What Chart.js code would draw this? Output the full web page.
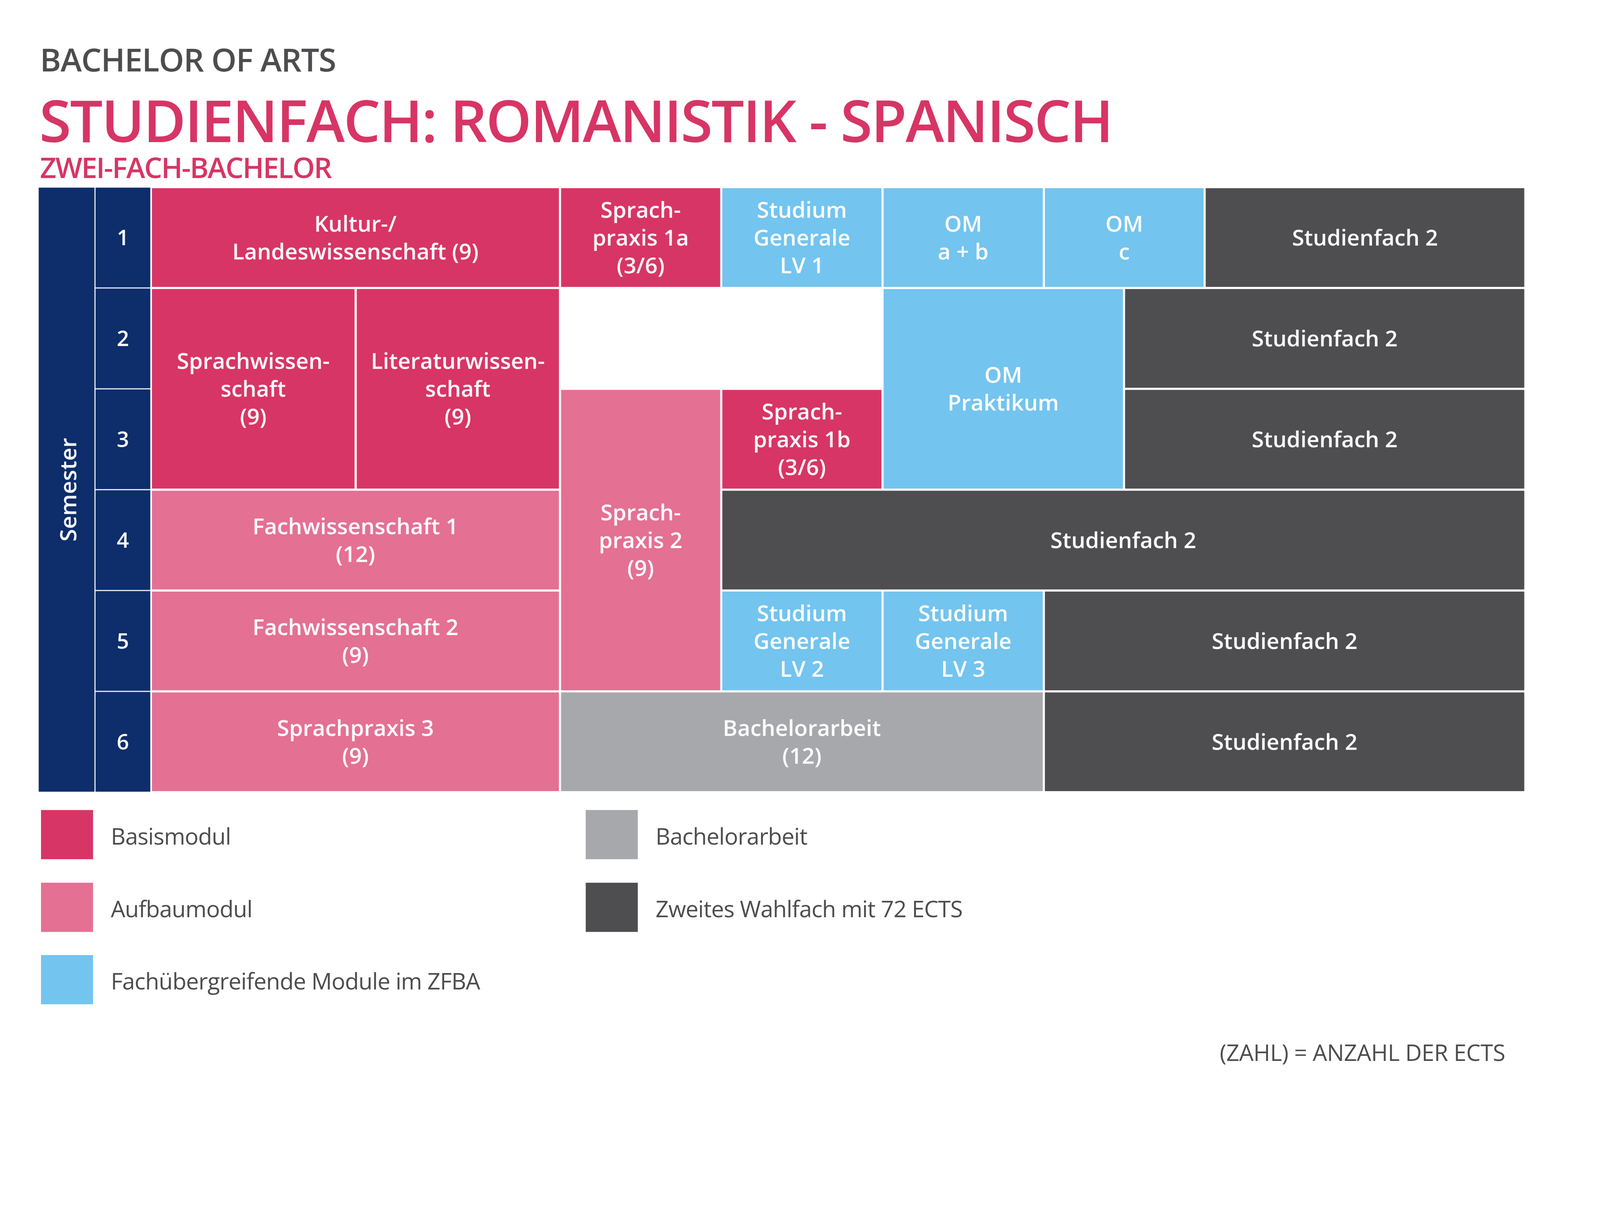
<!DOCTYPE html>
<html>
<head>
<meta charset="utf-8">
<script src="https://cdn.jsdelivr.net/npm/chart.js@4.4.1/dist/chart.umd.min.js"></script>
<style>
  html, body { margin: 0; padding: 0; background: #fff; overflow: hidden; }
  #page { width: 4488px; height: 3150px; position: absolute; left: 0; top: 0; transform-origin: 0 0; font-family: 'Open Sans', sans-serif; }
  .txt { position: absolute; white-space: nowrap; line-height: 1; }
  .swatch { position: absolute; width: 146px; height: 138px; }
  #wrap { position: absolute; left: 107px; top: 525px; width: 4178px; height: 1698px; }
</style>
</head>
<body>
<div id="page">
  <div class="txt" style="left:112px;top:120px;font-size:90px;font-weight:600;color:#4d4d4f;letter-spacing:-1.5px">BACHELOR OF ARTS</div>
  <div class="txt" style="left:110px;top:255px;font-size:163px;font-weight:600;color:#d73565;letter-spacing:-3.5px">STUDIENFACH: ROMANISTIK - SPANISCH</div>
  <div class="txt" style="left:112px;top:429px;font-size:80px;font-weight:600;color:#d73565;letter-spacing:-2.8px">ZWEI-FACH-BACHELOR</div>
  <div id="wrap"><canvas id="plan"></canvas></div>
  <div id="legend"></div>
  <div class="txt" id="note" style="right:266px;top:2921px;font-size:64px;color:#4d4d4f;letter-spacing:-0.5px">(ZAHL) = ANZAHL DER ECTS</div>
</div>

<script>
// semesters (rows)
const semesters = ['1', '2', '3', '4', '5', '6'];
const sideTitle = 'Semester';

// modules: x range in ECTS-like column units (0..30), row range as semester index
const moduleNames = [
  'Kultur-/\nLandeswissenschaft (9)',
  'Sprach-\npraxis 1a\n(3/6)',
  'Studium\nGenerale\nLV 1',
  'OM\na + b',
  'OM\nc',
  'Studienfach 2',
  'Sprachwissen-\nschaft\n(9)',
  'Literaturwissen-\nschaft\n(9)',
  'OM\nPraktikum',
  'Studienfach 2',
  'Studienfach 2',
  'Sprach-\npraxis 2\n(9)',
  'Sprach-\npraxis 1b\n(3/6)',
  'Fachwissenschaft 1\n(12)',
  'Studienfach 2',
  'Fachwissenschaft 2\n(9)',
  'Studium\nGenerale\nLV 2',
  'Studium\nGenerale\nLV 3',
  'Studienfach 2',
  'Sprachpraxis 3\n(9)',
  'Bachelorarbeit\n(12)',
  'Studienfach 2'
];
const moduleFrom = [0, 8.93, 12.45, 15.97, 19.49, 23.0, 0, 4.47, 15.97, 21.24, 21.24, 8.93, 12.45, 0, 12.45, 0, 12.45, 15.97, 19.49, 0, 8.93, 19.49];
const moduleTo   = [8.93, 12.45, 15.97, 19.49, 23.0, 30, 4.47, 8.93, 21.24, 30, 30, 12.45, 15.97, 8.93, 30, 8.93, 15.97, 19.49, 30, 8.93, 19.49, 30];
const semFrom    = [0, 0, 0, 0, 0, 0, 1, 1, 1, 1, 2, 2, 2, 3, 3, 4, 4, 4, 4, 5, 5, 5];
const semTo      = [0, 0, 0, 0, 0, 0, 2, 2, 2, 1, 2, 4, 2, 3, 3, 4, 4, 4, 4, 5, 5, 5];
const moduleKind = [0, 0, 2, 2, 2, 4, 0, 0, 2, 4, 4, 1, 0, 1, 4, 1, 2, 2, 4, 1, 3, 4];

// legend
const kindNames = ['Basismodul', 'Aufbaumodul', 'Fachübergreifende Module im ZFBA', 'Bachelorarbeit', 'Zweites Wahlfach mit 72 ECTS'];

// styles
const kindColors = ['#d73565', '#e47094', '#73c4ee', '#a7a8ab', '#4e4e50'];
const navy = '#0d2d6b';
const sideFrom = -2.46, numFrom = -1.22, gridFrom = 0;

// fit the 4488 wide layout into whatever the viewport really is
const fit = window.innerWidth / 4488;
document.getElementById('page').style.transform = 'scale(' + fit + ')';

const datasets = [];
function addBlock(label, x0, x1, s0, s1, color, bw, font) {
  const pts = [];
  for (let s = s0; s <= s1; s++) pts.push({ x: [x0, x1], y: semesters[s] });
  const n = pts.length;
  datasets.push({
    label: label,
    data: pts,
    backgroundColor: color,
    borderColor: '#ffffff',
    borderSkipped: false,
    borderWidth: c => ({ left: bw, right: bw, top: c.dataIndex === 0 ? bw : 0, bottom: c.dataIndex === n - 1 ? bw : 0 }),
    grouped: false,
    categoryPercentage: 1,
    barPercentage: 1,
    inflateAmount: 0,
    cellX: (x0 + x1) / 2,
    cellS0: s0,
    cellS1: s1,
    cellFont: font
  });
}

addBlock(sideTitle, sideFrom, numFrom, 0, semesters.length - 1, navy, 1.5, 'side');
semesters.forEach((s, i) => addBlock(s, numFrom, gridFrom, i, i, navy, 1.5, 'num'));
moduleNames.forEach((m, i) => addBlock(m, moduleFrom[i], moduleTo[i], semFrom[i], semTo[i], kindColors[moduleKind[i]], 3, 'cell'));

const cellLabels = {
  id: 'cellLabels',
  afterDatasetsDraw(chart) {
    const { ctx, scales: { x, y } } = chart;
    ctx.save();
    ctx.fillStyle = '#ffffff';
    ctx.textAlign = 'center';
    ctx.textBaseline = 'alphabetic';
    chart.data.datasets.forEach(ds => {
      const cx = x.getPixelForValue(ds.cellX);
      const cy = (y.getPixelForValue(ds.cellS0) + y.getPixelForValue(ds.cellS1)) / 2;
      if (ds.cellFont === 'side') {
        ctx.save();
        ctx.translate(cx + 4, cy);
        ctx.rotate(-Math.PI / 2);
        ctx.font = "600 64px 'Open Sans'";
        ctx.fillText(ds.label, 0, 23);
        ctx.restore();
        return;
      }
      const fs = ds.cellFont === 'num' ? 60 : 62;
      const lh = 78;
      ctx.font = "600 " + fs + "px 'Open Sans'";
      const lines = ds.label.split('\n');
      lines.forEach((ln, i) => {
        const by = cy - (lines.length - 1) / 2 * lh + i * lh + fs * 0.36;
        ctx.fillText(ln, cx, by);
      });
    });
    ctx.restore();
  }
};

const canvas = document.getElementById('plan');
canvas.style.width = '4178px';
canvas.style.height = '1698px';
canvas.width = 4178;
canvas.height = 1698;

// drawn at 1:1 so the row edges of split blocks fall on whole pixels (no seams)
new Chart(canvas, {
  type: 'bar',
  data: { labels: semesters, datasets: datasets },
  options: {
    indexAxis: 'y',
    responsive: false,
    devicePixelRatio: 1,
    animation: false,
    events: [],
    layout: { padding: 0 },
    scales: {
      x: { type: 'linear', min: -2.46, max: 30.05, display: false },
      y: { type: 'category', display: false, offset: true }
    },
    plugins: { legend: { display: false }, tooltip: { enabled: false } }
  },
  plugins: [cellLabels]
});

// legend
const legendPos = [[115, 2273], [115, 2477], [115, 2680], [1643, 2273], [1643, 2477]];
const legendBox = document.getElementById('legend');
kindNames.forEach((name, i) => {
  const sw = document.createElement('div');
  sw.className = 'swatch';
  sw.style.left = legendPos[i][0] + 'px';
  sw.style.top = legendPos[i][1] + 'px';
  sw.style.background = kindColors[i];
  legendBox.appendChild(sw);
  const t = document.createElement('div');
  t.className = 'txt';
  t.textContent = name;
  t.style.left = (legendPos[i][0] + 196) + 'px';
  t.style.top = (legendPos[i][1] + 41) + 'px';
  t.style.fontSize = '64px';
  t.style.letterSpacing = '-1px';
  t.style.color = '#4d4d4f';
  legendBox.appendChild(t);
});
</script>
</body>
</html>
